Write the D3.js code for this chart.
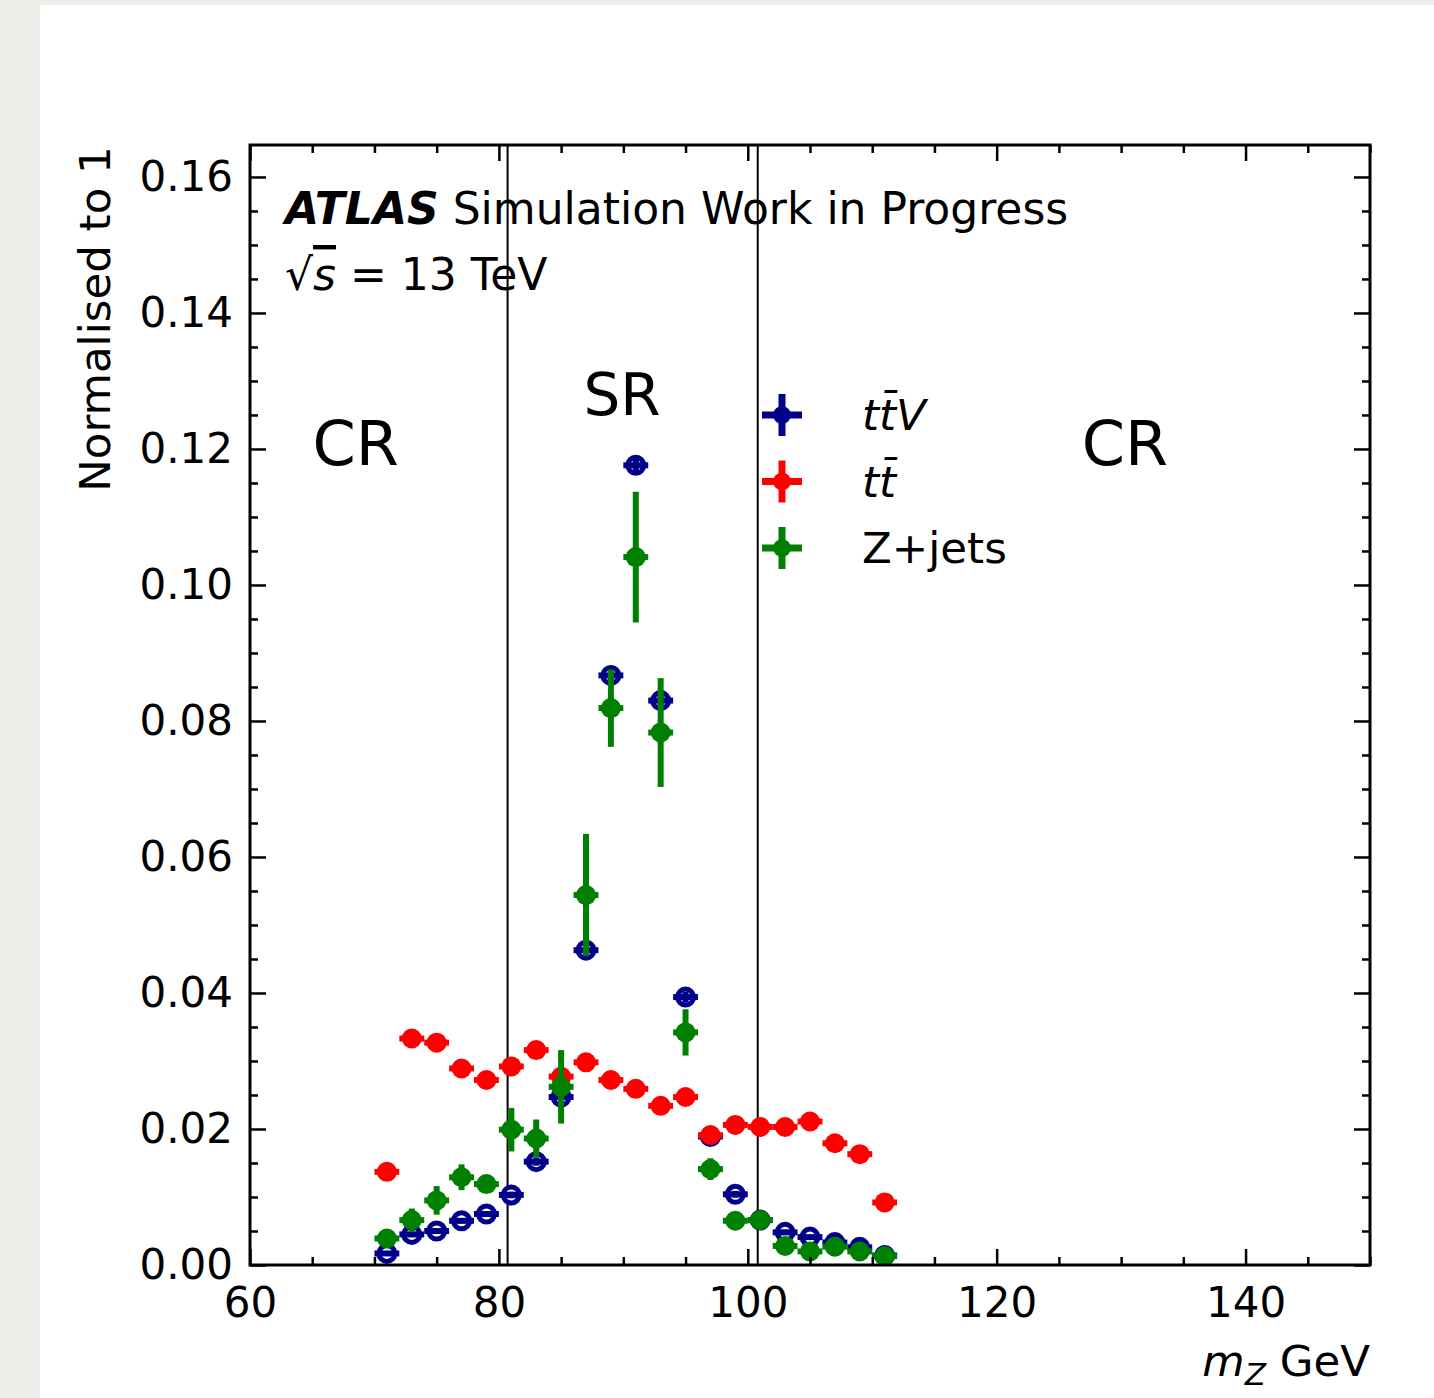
<!DOCTYPE html>
<html>
<head>
<meta charset="utf-8">
<script src="https://cdn.jsdelivr.net/npm/d3@7"></script>
<style>
  html, body { margin: 0; padding: 0; background: #efeeea; }
  svg { display: block; font-family: "DejaVu Sans", sans-serif; }
  svg text { font-family: "DejaVu Sans", sans-serif; }
  .tick-label { font-size: 42px; fill: #000; }
</style>
</head>
<body>
<svg id="chart" width="1434" height="1398"></svg>
<script>
// Bin centres of the m_Z histogram (2 GeV bins)
const binCentres = [71, 73, 75, 77, 79, 81, 83, 85, 87, 89, 91, 93, 95, 97, 99, 101, 103, 105, 107, 109, 111];

const ttvValues = [0.0017, 0.0045, 0.0050, 0.0065, 0.0075, 0.0103, 0.0152, 0.0247, 0.0463, 0.0867, 0.1176, 0.0830,
                   0.0394, 0.0189, 0.0104, 0.0066, 0.0048, 0.0041, 0.0033, 0.0026, 0.0014];
const ttvErrors = [0.0003, 0.0004, 0.0004, 0.0004, 0.0004, 0.0005, 0.0006, 0.0007, 0.0009, 0.0012, 0.0014, 0.0012,
                   0.0008, 0.0006, 0.0005, 0.0004, 0.0004, 0.0003, 0.0003, 0.0003, 0.0002];

const ttValues = [0.0137, 0.0333, 0.0327, 0.0289, 0.0272, 0.0292, 0.0316, 0.0277, 0.0298, 0.0272, 0.0259, 0.0234,
                  0.0247, 0.0191, 0.0206, 0.0203, 0.0203, 0.0211, 0.0179, 0.0163, 0.0092];
const ttErrors = [0.0006, 0.0009, 0.0009, 0.0008, 0.0008, 0.0008, 0.0009, 0.0008, 0.0009, 0.0008, 0.0008, 0.0007,
                  0.0008, 0.0007, 0.0007, 0.0007, 0.0007, 0.0007, 0.0006, 0.0006, 0.0005];

const zjetsValues = [0.0039, 0.0066, 0.0095, 0.0129, 0.0119, 0.0199, 0.0186, 0.0262, 0.0544, 0.0819, 0.1041, 0.0783,
                     0.0342, 0.0141, 0.0065, 0.0066, 0.0028, 0.0020, 0.0027, 0.0020, 0.0013];
const zjetsErrors = [0.0010, 0.0017, 0.0021, 0.0019, 0.0008, 0.0032, 0.0028, 0.0054, 0.0090, 0.0057, 0.0096, 0.0080,
                     0.0034, 0.0016, 0.0008, 0.0008, 0.0008, 0.0008, 0.0007, 0.0006, 0.0005];

const binHalfWidth = 1;
const regionEdges = [80.7, 100.8];
const xTickValues = [60, 80, 100, 120, 140];
const yTickValues = [0, 0.02, 0.04, 0.06, 0.08, 0.10, 0.12, 0.14, 0.16];
const legendLabels = ["ttV", "tt", "Z+jets"];

const series = [
  { name: "ttV", values: ttvValues, errors: ttvErrors, color: "#00008b", hollow: true },
  { name: "tt", values: ttValues, errors: ttErrors, color: "#ff0000", hollow: false },
  { name: "Z+jets", values: zjetsValues, errors: zjetsErrors, color: "#008000", hollow: false },
];

const svg = d3.select("#chart");
const W = 1434, H = 1398;
const margin = { left: 250, right: 64, top: 145, bottom: 133 };
const pw = W - margin.left - margin.right;   // 1120
const ph = H - margin.top - margin.bottom;   // 1120

// white canvas over the grey page
svg.append("rect").attr("x", 40).attr("y", 5).attr("width", W - 40).attr("height", H - 5).attr("fill", "#fff");

const x = d3.scaleLinear().domain([60, 150]).range([margin.left, margin.left + pw]);
const y = d3.scaleLinear().domain([0, 0.1647]).range([margin.top + ph, margin.top]);

const g = svg.append("g");

// region boundaries
g.selectAll("line.region")
  .data(regionEdges)
  .join("line")
  .attr("class", "region")
  .attr("x1", (d) => x(d)).attr("x2", (d) => x(d))
  .attr("y1", y.range()[1]).attr("y2", y.range()[0])
  .attr("stroke", "#000").attr("stroke-width", 2);

// error bars + markers, one group per sample
series.forEach((s) => {
  const pts = binCentres.map((c, i) => ({ x: c, v: s.values[i], e: s.errors[i] }));
  const sg = g.append("g");
  if (s.hollow) {
    sg.selectAll("circle").data(pts).join("circle")
      .attr("cx", (d) => x(d.x)).attr("cy", (d) => y(d.v)).attr("r", 8)
      .attr("fill", "#fff").attr("stroke", s.color).attr("stroke-width", 5);
  }
  sg.selectAll("line.xerr").data(pts).join("line").attr("class", "xerr")
    .attr("x1", (d) => x(d.x - binHalfWidth)).attr("x2", (d) => x(d.x + binHalfWidth))
    .attr("y1", (d) => y(d.v)).attr("y2", (d) => y(d.v))
    .attr("stroke", s.color).attr("stroke-width", 6);
  sg.selectAll("line.yerr").data(pts).join("line").attr("class", "yerr")
    .attr("x1", (d) => x(d.x)).attr("x2", (d) => x(d.x))
    .attr("y1", (d) => y(d.v - d.e)).attr("y2", (d) => y(d.v + d.e))
    .attr("stroke", s.color).attr("stroke-width", 6);
  if (!s.hollow) {
    sg.selectAll("circle").data(pts).join("circle")
      .attr("cx", (d) => x(d.x)).attr("cy", (d) => y(d.v)).attr("r", 10)
      .attr("fill", s.color);
  }
});

// axes: ticks pointing inwards on all four sides
const xMinor = d3.range(60, 151, 5).filter((v) => !xTickValues.includes(v));
const yMinor = d3.range(0, 0.1647, 0.005).filter((v) => !yTickValues.some((t) => Math.abs(t - v) < 1e-9));

function tickSet(axisFn, scale, vals, len, fmt) {
  return axisFn(scale).tickValues(vals).tickSizeInner(-len).tickSizeOuter(0).tickFormat(fmt);
}

const axes = svg.append("g");
const none = () => "";
const bottomY = y.range()[0], leftX = x.range()[0];

[[d3.axisBottom, bottomY], [d3.axisTop, y.range()[1]]].forEach(([fn, ty], k) => {
  axes.append("g").attr("transform", `translate(0,${ty})`).call(tickSet(fn, x, xMinor, 8, none));
  const maj = axes.append("g").attr("transform", `translate(0,${ty})`)
    .call(tickSet(fn, x, xTickValues, 16, k === 0 ? d3.format("d") : none));
  if (k === 0) maj.selectAll(".tick text").attr("dy", null).attr("y", 52);
});
[[d3.axisLeft, leftX], [d3.axisRight, x.range()[1]]].forEach(([fn, tx], k) => {
  axes.append("g").attr("transform", `translate(${tx},0)`).call(tickSet(fn, y, yMinor, 8, none));
  const maj = axes.append("g").attr("transform", `translate(${tx},0)`)
    .call(tickSet(fn, y, yTickValues, 16, k === 0 ? d3.format(".2f") : none));
  if (k === 0) maj.selectAll(".tick text").attr("x", -17);
});
axes.selectAll("g").attr("font-family", null).attr("font-size", null);
axes.selectAll(".domain").remove();
axes.selectAll(".tick line").attr("stroke", "#000").attr("stroke-width", 2.5);
axes.selectAll(".tick text").attr("class", "tick-label");

// frame
svg.append("rect")
  .attr("x", margin.left).attr("y", margin.top).attr("width", pw).attr("height", ph)
  .attr("fill", "none").attr("stroke", "#000").attr("stroke-width", 3);

// axis titles
svg.append("text")
  .attr("transform", `translate(110,${margin.top + 174}) rotate(-90)`)
  .attr("text-anchor", "middle").attr("font-size", 43.5)
  .text("Normalised to 1");

const xl = svg.append("text").attr("x", x.range()[1]).attr("y", 1376).attr("text-anchor", "end").attr("font-size", 43.5);
xl.append("tspan").attr("font-style", "italic").text("m");
xl.append("tspan").attr("font-style", "italic").attr("font-size", 31).attr("dy", 9).text("Z");
xl.append("tspan").attr("dy", -9).text(" GeV");

// ATLAS label
const at = svg.append("text").attr("x", 285).attr("y", 224).attr("font-size", 44);
at.append("tspan").attr("font-weight", "bold").attr("font-style", "italic").text("ATLAS");
at.append("tspan").text(" Simulation Work in Progress");

const en = svg.append("text").attr("x", 285).attr("y", 290).attr("font-size", 44);
en.append("tspan").text("\u221A");
en.append("tspan").attr("font-style", "italic").style("text-decoration", "overline").text("s");
en.append("tspan").text(" = 13 TeV");

// region labels
const regionLabels = [
  { text: "CR", at: 68.5, v: 0.1176, size: 62 },
  { text: "SR", at: 89.9, v: 0.1250, size: 58 },
  { text: "CR", at: 130.3, v: 0.1176, size: 62 },
];
svg.selectAll("text.region").data(regionLabels).join("text").attr("class", "region")
  .attr("x", (d) => x(d.at)).attr("y", (d) => y(d.v))
  .attr("text-anchor", "middle").attr("font-size", (d) => d.size)
  .text((d) => d.text);

// legend
const legend = svg.append("g").attr("transform", "translate(782,415)");
const items = legend.selectAll("g").data(series).join("g")
  .attr("transform", (d, i) => `translate(0,${i * 66.5})`);
items.append("line").attr("x1", -20).attr("x2", 20).attr("stroke", (d) => d.color).attr("stroke-width", 7);
items.append("line").attr("y1", -21).attr("y2", 21).attr("stroke", (d) => d.color).attr("stroke-width", 7);
items.append("circle").attr("r", 9).attr("fill", (d) => d.color);
const lt = items.append("text").attr("x", 80).attr("y", 15).attr("font-size", 43.5);
lt.each(function (d, i) {
  const t = d3.select(this);
  if (legendLabels[i] === "ttV") {
    t.attr("font-style", "italic").text("t\u0074\u0304V");
  } else if (legendLabels[i] === "tt") {
    t.attr("font-style", "italic").text("t\u0074\u0304");
  } else {
    t.text(legendLabels[i]);
  }
});
</script>
</body>
</html>
